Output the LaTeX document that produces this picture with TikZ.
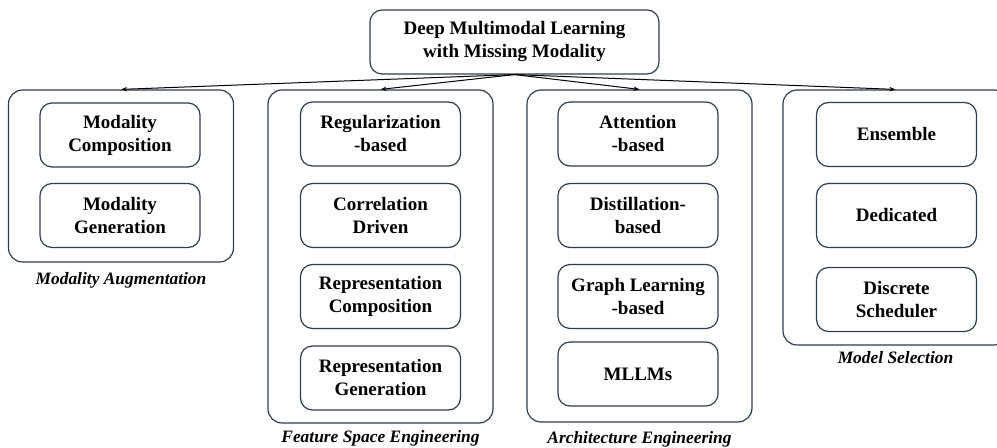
\documentclass[tikz,border=0pt]{standalone}
\usepackage{fontspec}
\setmainfont{Liberation Serif}
\usetikzlibrary{arrows.meta, positioning}
\definecolor{boxline}{RGB}{44,62,80}

\begin{document}
\begin{tikzpicture}[x=0.5pt, y=-0.5pt,
    topbox/.style={draw=boxline, line width=0.6pt, rounded corners=6pt, minimum width=144.5pt, minimum height=32pt, align=center, font=\fontsize{9.5}{11.5}\selectfont\bfseries},
    groupbox/.style={draw=boxline, line width=0.6pt, rounded corners=7pt, minimum width=112.5pt, inner sep=0pt},
    itembox/.style={draw=boxline, line width=0.6pt, rounded corners=6pt, minimum width=80pt, minimum height=32pt, inner sep=2pt, align=center, font=\fontsize{9.5}{11.5}\selectfont\bfseries},
    grouplabel/.style={inner sep=0pt, font=\fontsize{8.7}{10}\selectfont\bfseries\itshape},
    arr/.style={-{Stealth[length=3pt, width=2.2pt]}, line width=0.5pt}]
            \useasboundingbox (0,0) rectangle (997,448);
            \clip (0,0) rectangle (997,448);
            % Root
            \node[topbox] (root) at (514.5,42) {Deep Multimodal Learning\\with Missing Modality};
            % Groups
            \node[groupbox, minimum height=86pt] (aug) at (121,176) {};
            \node[groupbox, minimum height=166.5pt] (feat) at (380.5,256.5) {};
            \node[groupbox, minimum height=166pt] (arch) at (639.5,256) {};
            \node[groupbox, minimum height=127.5pt] (sel) at (895.5,217.5) {};
            \node[grouplabel] (augl) at (121,280) {Modality Augmentation};
            \node[grouplabel] (featl) at (380.5,438) {Feature Space Engineering};
            \node[grouplabel] (archl) at (639.5,439) {Architecture Engineering};
            \node[grouplabel] (sell) at (895.5,358) {Model Selection};
            % Modality Augmentation
            \node[itembox] (mcomp) at (120,135) {Modality\\Composition};
            \node[itembox] (mgen) at (120,215.5) {Modality\\Generation};
            % Feature Space Engineering
            \node[itembox] (reg) at (380.5,134) {Regularization\\-based};
            \node[itembox] (corr) at (380.5,215.5) {Correlation\\Driven};
            \node[itembox] (rcomp) at (380.5,296.5) {Representation\\Composition};
            \node[itembox] (rgen) at (380.5,378) {Representation\\Generation};
            % Architecture Engineering
            \node[itembox] (att) at (638,134) {Attention\\-based};
            \node[itembox] (dist) at (638,215.5) {Distillation-\\based};
            \node[itembox] (graph) at (638,296.5) {Graph Learning\\-based};
            \node[itembox] (mllm) at (638,374) {MLLMs};
            % Model Selection
            \node[itembox] (ens) at (896.5,134.5) {Ensemble};
            \node[itembox] (ded) at (896.5,215.5) {Dedicated};
            \node[itembox] (disc) at (896.5,299.5) {Discrete\\Scheduler};
            % Arrows
            \draw[arr] (root.south) -- (aug.north);
            \draw[arr] (root.south) -- (feat.north);
            \draw[arr] (root.south) -- (arch.north);
            \draw[arr] (root.south) -- (sel.north);
        \end{tikzpicture}
\end{document}
